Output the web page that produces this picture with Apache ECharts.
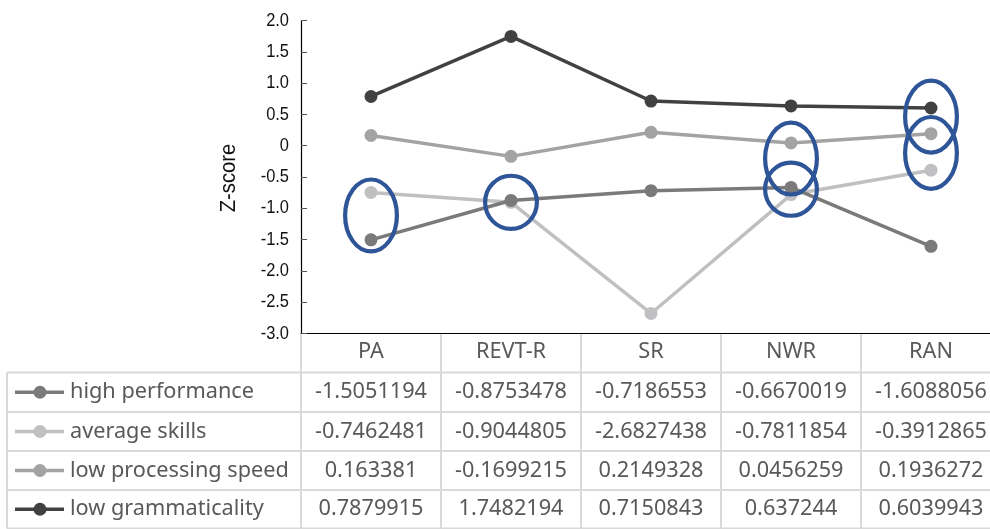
<!DOCTYPE html>
<html><head><meta charset="utf-8">
<script src="https://cdn.jsdelivr.net/npm/echarts@6/dist/echarts.min.js"></script>
<style>html,body{margin:0;padding:0;background:#fff}#c{width:990px;height:529px}</style>
</head><body><div id="c"></div>
<script>
const categories = ['PA', 'REVT-R', 'SR', 'NWR', 'RAN'];
const seriesNames = ['high performance', 'average skills', 'low processing speed', 'low grammaticality'];
const highPerformance = [-1.5051194, -0.8753478, -0.7186553, -0.6670019, -1.6088056];
const averageSkills = [-0.7462481, -0.9044805, -2.6827438, -0.7811854, -0.3912865];
const lowProcessingSpeed = [0.163381, -0.1699215, 0.2149328, 0.0456259, 0.1936272];
const lowGrammaticality = [0.7879915, 1.7482194, 0.7150843, 0.637244, 0.6039943];
const yTickValues = [2.0, 1.5, 1.0, 0.5, 0, -0.5, -1.0, -1.5, -2.0, -2.5, -3.0];
const yTickLabels = ['2.0', '1.5', '1.0', '0.5', '0', '-0.5', '-1.0', '-1.5', '-2.0', '-2.5', '-3.0'];
// highlighted groups: [category index, upper value, lower value]
const highlights = [[0, -0.54, -1.69], [1, -0.48, -1.33], [3, 0.37, -0.78], [3, -0.27, -1.12], [4, 1.04, -0.11], [4, 0.46, -0.69]];

const seriesValues = [highPerformance, averageSkills, lowProcessingSpeed, lowGrammaticality];
const colors = ['#7a7a7a', '#c0c0c2', '#a3a3a3', '#414141'];
const narrow = "'Liberation Sans', Arial, sans-serif";
const tableFont = "'Noto Sans', 'Open Sans', sans-serif";
const textGray = '#595959';

const chart = echarts.init(document.getElementById('c'), null, {renderer: 'canvas'});

const lineSeries = seriesValues.map((vals, i) => ({
  name: seriesNames[i], type: 'line', data: vals, symbol: 'circle', symbolSize: 13,
  lineStyle: {color: colors[i], width: 3.5}, itemStyle: {color: colors[i]},
  z: 2 + (i === 1 ? 0 : 1), silent: true, animation: false
}));

const option = {
  animation: false,
  grid: {left: 301, top: 20.7, right: -11, bottom: 195.7, containLabel: false, outerBoundsMode: 'none'},
  xAxis: {
    type: 'category', data: categories, boundaryGap: true,
    axisLine: {onZero: false, lineStyle: {color: '#000', width: 1.2}},
    axisTick: {inside: true, length: 6, lineStyle: {color: '#000'}},
    axisLabel: {margin: 8, fontSize: 21.7, color: textGray, fontFamily: tableFont}
  },
  yAxis: {
    type: 'value', min: -3, max: 2, interval: 0.5,
    axisLine: {show: true, lineStyle: {color: '#000', width: 1.2}},
    axisTick: {show: true, inside: true, length: 6, lineStyle: {color: '#555'}},
    splitLine: {show: false},
    axisLabel: {show: false}
  },
  series: lineSeries.concat([{
    type: 'custom', data: highlights, encode: {x: 0, y: [1, 2]}, z: 10, silent: true,
    renderItem: (params, api) => {
      const ci = api.value(0);
      const top = api.coord([ci, api.value(1)]);
      const bot = api.coord([ci, api.value(2)]);
      const band = api.size([1, 0])[0];
      return {
        type: 'ellipse',
        shape: {cx: top[0], cy: (top[1] + bot[1]) / 2, rx: band * 0.185, ry: (bot[1] - top[1]) / 2},
        style: {fill: 'none', stroke: '#2E5597', lineWidth: 4.2}
      };
    }
  }])
};
chart.setOption(option);

const g = [];
// condensed y-axis tick labels and title
const p0 = chart.convertToPixel({xAxisIndex: 0}, categories[0]);
const p1 = chart.convertToPixel({xAxisIndex: 0}, categories[1]);
const axisX = p0 - (p1 - p0) / 2;
yTickValues.forEach((v, i) => {
  const y = chart.convertToPixel({yAxisIndex: 0}, v);
  g.push({type: 'text', x: axisX - 12, y: y, scaleX: 0.865,
    style: {text: yTickLabels[i], fontSize: 19, fontFamily: narrow, fill: '#111', align: 'right', verticalAlign: 'middle'}});
});
const midY = (chart.convertToPixel({yAxisIndex: 0}, 2) + chart.convertToPixel({yAxisIndex: 0}, -3)) / 2;
g.push({type: 'text', x: 229, y: midY + 1, rotation: Math.PI / 2, scaleX: 0.92,
  style: {text: 'Z-score', fontSize: 22, fontFamily: narrow, fill: '#111', align: 'center', verticalAlign: 'middle'}});

// data table below the axis
const axisY = chart.convertToPixel({yAxisIndex: 0}, -3);
const band = p1 - p0;
const rowLines = [372.5, 412, 451, 490, 528.5];
const leftX = 7, rightX = 990;
const gridColor = '#d9d9d9';
rowLines.forEach(y => g.push({type: 'line', shape: {x1: leftX, y1: y, x2: rightX, y2: y}, style: {stroke: gridColor, lineWidth: 2}}));
g.push({type: 'line', shape: {x1: leftX, y1: rowLines[0], x2: leftX, y2: rowLines[4]}, style: {stroke: gridColor, lineWidth: 2}});
for (let i = 0; i <= categories.length; i++) {
  const x = p0 - band / 2 + i * band;
  g.push({type: 'line', shape: {x1: x, y1: axisY + 1, x2: x, y2: rowLines[4]}, style: {stroke: gridColor, lineWidth: 2}});
}
seriesNames.forEach((name, r) => {
  const cy = (rowLines[r] + rowLines[r + 1]) / 2;
  g.push({type: 'line', shape: {x1: 15, y1: cy, x2: 64, y2: cy}, style: {stroke: colors[r], lineWidth: 3.5}});
  g.push({type: 'circle', shape: {cx: 40, cy: cy, r: 6.5}, style: {fill: colors[r]}});
  g.push({type: 'text', x: 70, y: cy, style: {text: name, fontSize: 21.7, fontFamily: tableFont, fill: textGray, verticalAlign: 'middle'}});
  seriesValues[r].forEach((v, ci) => {
    const cx = chart.convertToPixel({xAxisIndex: 0}, categories[ci]);
    g.push({type: 'text', x: cx, y: cy, style: {text: String(v), fontSize: 21.7, fontFamily: tableFont, fill: textGray, align: 'center', verticalAlign: 'middle'}});
  });
});
chart.setOption({graphic: {elements: g}});
</script>
</body></html>
